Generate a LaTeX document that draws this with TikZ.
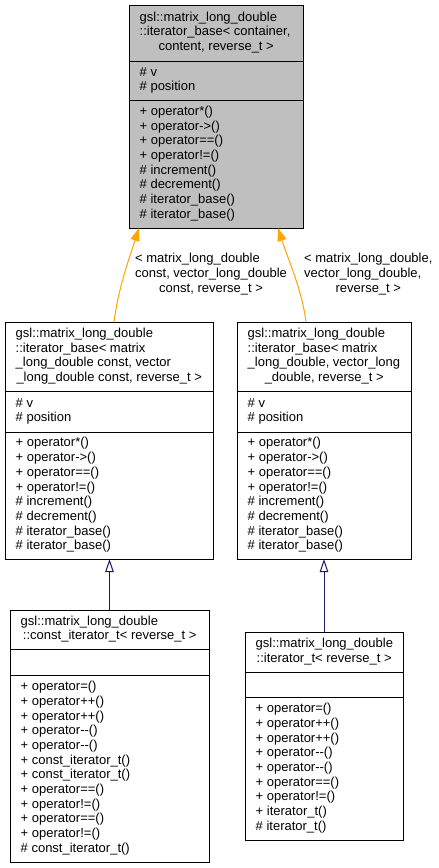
\documentclass[tikz,border=0pt]{standalone}
\usepackage{fontspec}
\setmainfont{Liberation Sans}
\usetikzlibrary{arrows.meta}
\definecolor{dgray}{HTML}{BFBFBF}
\definecolor{dorange}{HTML}{FFA500}
\definecolor{dblue}{HTML}{191970}
\newcommand\dmm{\mbox{-}\mbox{-}}
\newcommand\lastc[2]{\makebox[#1pt][c]{#2}}
\begin{document}
\begin{tikzpicture}[x=1pt,y=-1pt,
  font=\fontsize{13}{14.7}\selectfont,
  cls/.style={draw=black, line width=1pt, rectangle, inner sep=0pt, outer sep=0pt, anchor=north west, fill=white},
  txt/.style={inner sep=0pt, anchor=west, text=black},
  divider/.style={draw=black, line width=1pt},
  oedge/.style={draw=dorange, line width=1pt, -{Triangle[length=13pt,width=9pt]}, fill=none},
  bedge/.style={draw=dblue, line width=1pt, -{Triangle[open,length=13pt,width=8.5pt,fill=white]}}]
\fill[white] (0,0) rectangle (439,868);
\useasboundingbox (0,0) rectangle (439,868);

% ---------- top box ----------
\node[cls, fill=dgray, minimum width=174pt, minimum height=223pt] (top) at (129,5) {};
\draw[divider] (top.west |- 0,61) -- (top.east |- 0,61);
\draw[divider] (top.west |- 0,100) -- (top.east |- 0,100);
\node[txt] (topT) at (139.5,33) {\begin{tabular}{@{}l@{}}gsl::matrix\_long\_double\\ ::iterator\_base< container,\\ \lastc{153}{content, reverse\_t >}\end{tabular}};
\node[txt] (topA) at (139.5,80.5) {\begin{tabular}{@{}l@{}}\# v\\ \# position\end{tabular}};
\node[txt] (topM) at (139.5,164) {\begin{tabular}{@{}l@{}}+ operator*()\\ + operator->()\\ + operator==()\\ + operator!=()\\ \# increment()\\ \# decrement()\\ \# iterator\_base()\\ \# iterator\_base()\end{tabular}};

% ---------- middle left ----------
\node[cls, minimum width=208pt, minimum height=237pt] (midL) at (5,322) {};
\draw[divider] (midL.west |- 0,391) -- (midL.east |- 0,391);
\draw[divider] (midL.west |- 0,432) -- (midL.east |- 0,432);
\node[txt] (midLT) at (15.5,356.5) {\begin{tabular}{@{}l@{}}gsl::matrix\_long\_double\\ ::iterator\_base< matrix\\ \_long\_double const, vector\\ \lastc{187}{\_long\_double const, reverse\_t >}\end{tabular}};
\node[txt] (midLA) at (15.5,411.5) {\begin{tabular}{@{}l@{}}\# v\\ \# position\end{tabular}};
\node[txt] (midLM) at (15.5,495.5) {\begin{tabular}{@{}l@{}}+ operator*()\\ + operator->()\\ + operator==()\\ + operator!=()\\ \# increment()\\ \# decrement()\\ \# iterator\_base()\\ \# iterator\_base()\end{tabular}};

% ---------- middle right ----------
\node[cls, minimum width=174pt, minimum height=237pt] (midR) at (237,322) {};
\draw[divider] (midR.west |- 0,391) -- (midR.east |- 0,391);
\draw[divider] (midR.west |- 0,432) -- (midR.east |- 0,432);
\node[txt] (midRT) at (247.5,356.5) {\begin{tabular}{@{}l@{}}gsl::matrix\_long\_double\\ ::iterator\_base< matrix\\ \_long\_double, vector\_long\\ \lastc{153}{\_double, reverse\_t >}\end{tabular}};
\node[txt] (midRA) at (247.5,411.5) {\begin{tabular}{@{}l@{}}\# v\\ \# position\end{tabular}};
\node[txt] (midRM) at (247.5,495.5) {\begin{tabular}{@{}l@{}}+ operator*()\\ + operator->()\\ + operator==()\\ + operator!=()\\ \# increment()\\ \# decrement()\\ \# iterator\_base()\\ \# iterator\_base()\end{tabular}};

% ---------- bottom left ----------
\node[cls, minimum width=199pt, minimum height=252pt] (botL) at (10,610) {};
\draw[divider] (botL.west |- 0,649) -- (botL.east |- 0,649);
\draw[divider] (botL.west |- 0,675) -- (botL.east |- 0,675);
\node[txt] (botLT) at (20.5,629.5) {\begin{tabular}{@{}l@{}}gsl::matrix\_long\_double\\ \lastc{178}{::const\_iterator\_t< reverse\_t >}\end{tabular}};
\node[txt] (botLM) at (20.5,768.5) {\begin{tabular}{@{}l@{}}+ operator=()\\ + operator++()\\ + operator++()\\ + operator\dmm()\\ + operator\dmm()\\ + const\_iterator\_t()\\ + const\_iterator\_t()\\ + operator==()\\ + operator!=()\\ + operator==()\\ + operator!=()\\ \# const\_iterator\_t()\end{tabular}};

% ---------- bottom right ----------
\node[cls, minimum width=158pt, minimum height=208pt] (botR) at (245,632) {};
\draw[divider] (botR.west |- 0,672) -- (botR.east |- 0,672);
\draw[divider] (botR.west |- 0,697) -- (botR.east |- 0,697);
\node[txt] (botRT) at (255.5,652) {\begin{tabular}{@{}l@{}}gsl::matrix\_long\_double\\ \lastc{137}{::iterator\_t< reverse\_t >}\end{tabular}};
\node[txt] (botRM) at (255.5,768.5) {\begin{tabular}{@{}l@{}}+ operator=()\\ + operator++()\\ + operator++()\\ + operator\dmm()\\ + operator\dmm()\\ + operator==()\\ + operator!=()\\ + iterator\_t()\\ \# iterator\_t()\end{tabular}};

% ---------- template edges ----------
\draw[oedge] ([xshift=5pt]midL.north) .. controls +(4,-32) and +(-11,34) .. ([xshift=-77pt]top.south);
\draw[oedge] ([xshift=-18pt]midR.north) .. controls +(-4,-32) and +(11,34) .. ([xshift=62pt]top.south);
\node[txt] (lblL) at (135,274.5) {\begin{tabular}{@{}l@{}}< matrix\_long\_double\\ const, vector\_long\_double\\ \multicolumn{1}{@{}c@{}}{const, reverse\_t >}\end{tabular}};
\node[txt] (lblR) at (304,274.5) {\begin{tabular}{@{}l@{}}< matrix\_long\_double,\\ vector\_long\_double,\\ \multicolumn{1}{@{}c@{}}{reverse\_t >}\end{tabular}};

% ---------- inheritance edges ----------
\draw[bedge] (botL.north) -- (botL.north |- midL.south);
\draw[bedge] (botR.north) -- (botR.north |- midR.south);
\end{tikzpicture}
\end{document}
